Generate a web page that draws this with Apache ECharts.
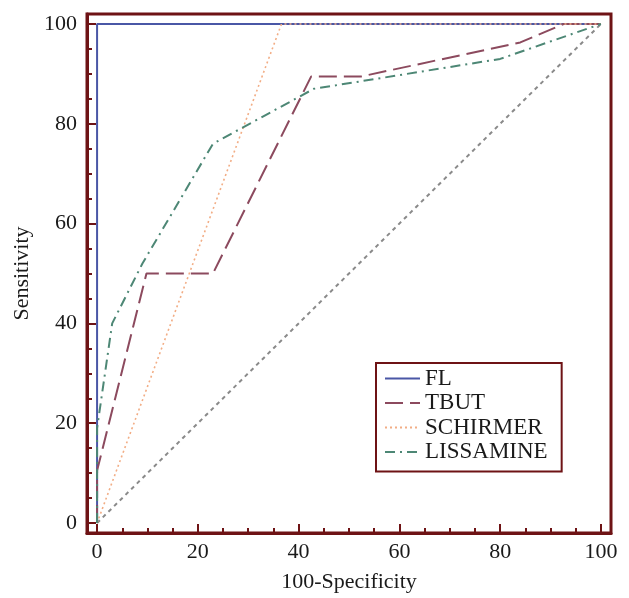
<!DOCTYPE html>
<html>
<head>
<meta charset="utf-8">
<script src="https://cdn.jsdelivr.net/npm/echarts@6/dist/echarts.min.js"></script>
<style>html,body{margin:0;padding:0;background:#fff}#c{width:629px;height:598px}</style>
</head>
<body>
<div id="c"></div>
<script>
// Data
const seriesNames = ['FL', 'TBUT', 'SCHIRMER', 'LISSAMINE'];
const flX = [0, 0, 100];
const flY = [0, 100, 100];
const tbutX = [0, 0, 9.8, 23, 42.5, 52.5, 84, 92.6, 100];
const tbutY = [0, 10.5, 50, 50, 89.5, 89.5, 96.3, 100, 100];
const schX = [0, 36.6, 100];
const schY = [0, 100, 100];
const lisX = [0, 0, 3, 4.5, 9, 23, 43, 80, 100];
const lisY = [0, 19, 40, 43, 52, 76, 87, 93, 100];
const diagX = [0, 100];
const diagY = [0, 100];
const majorTicks = [0, 20, 40, 60, 80, 100];
const minorTicks = [5, 10, 15, 25, 30, 35, 45, 50, 55, 65, 70, 75, 85, 90, 95];

const pts = (xs, ys) => xs.map((x, i) => [x, ys[i]]);
const frame = '#6e1315';
const font = 'Liberation Serif';

function axisMajor(isX) {
  return {
    type: 'value', min: -2, max: 102,
    axisLine: { show: true, onZero: false, lineStyle: { color: frame, width: 3 } },
    axisTick: { show: true, inside: true, length: 9, customValues: majorTicks, lineStyle: { color: frame, width: 2 } },
    axisLabel: { customValues: majorTicks, color: '#1a1a1a', fontFamily: font, fontSize: 22, margin: isX ? 8 : 10 },
    splitLine: { show: false },
    name: isX ? '100-Specificity' : 'Sensitivity',
    nameLocation: 'middle',
    nameGap: isX ? 38 : 54,
    nameTextStyle: { color: '#1a1a1a', fontFamily: font, fontSize: 22 }
  };
}
function axisMinor() {
  return {
    type: 'value', min: -2, max: 102,
    axisLine: { show: false, onZero: false },
    axisTick: { show: true, inside: true, length: 5, customValues: minorTicks, lineStyle: { color: frame, width: 2 } },
    axisLabel: { show: false },
    splitLine: { show: false }
  };
}
const xMinor = axisMinor(); xMinor.position = 'bottom';
const yMinor = axisMinor(); yMinor.position = 'left';

const chart = echarts.init(document.getElementById('c'), null, { renderer: 'canvas' });
chart.setOption({
  animation: false,
  backgroundColor: '#fff',
  grid: { left: 87, right: 18, top: 14, bottom: 63, show: true, borderColor: frame, borderWidth: 3, backgroundColor: 'transparent' },
  xAxis: [Object.assign(axisMajor(true), { position: 'bottom' }), xMinor],
  yAxis: [Object.assign(axisMajor(false), { position: 'left' }), yMinor],
  legend: {
    data: seriesNames,
    orient: 'vertical',
    left: 376, top: 363,
    padding: [4, 14, 8, 8],
    itemWidth: 35, itemHeight: 14, itemGap: 1.5,
    borderColor: frame, borderWidth: 2,
    selectedMode: false,
    itemStyle: { opacity: 0 },
    textStyle: { color: '#1a1a1a', fontFamily: font, fontSize: 23, lineHeight: 23 }
  },
  series: [
    { name: 'FL', type: 'line', data: pts(flX, flY), showSymbol: false, symbol: 'none', z: 2,
      lineStyle: { color: '#4a57a6', width: 2, type: 'solid' }, itemStyle: { color: '#4a57a6' } },
    { name: 'TBUT', type: 'line', data: pts(tbutX, tbutY), showSymbol: false, symbol: 'none', z: 3,
      lineStyle: { color: '#8c4a5e', width: 2, type: [18, 7] }, itemStyle: { color: '#8c4a5e' } },
    { name: 'SCHIRMER', type: 'line', data: pts(schX, schY), showSymbol: false, symbol: 'none', z: 3,
      lineStyle: { color: '#f2ad85', width: 1.6, type: [2, 3] }, itemStyle: { color: '#f2ad85' } },
    { name: 'LISSAMINE', type: 'line', data: pts(lisX, lisY), showSymbol: false, symbol: 'none', z: 3,
      lineStyle: { color: '#4d8775', width: 2, type: [10, 5, 2, 5] }, itemStyle: { color: '#4d8775' } },
    { name: 'ref', type: 'line', data: pts(diagX, diagY), showSymbol: false, symbol: 'none', z: 2,
      lineStyle: { color: '#8a8a8a', width: 2, type: [4, 4] }, itemStyle: { color: '#8a8a8a' } }
  ]
});
</script>
</body>
</html>
